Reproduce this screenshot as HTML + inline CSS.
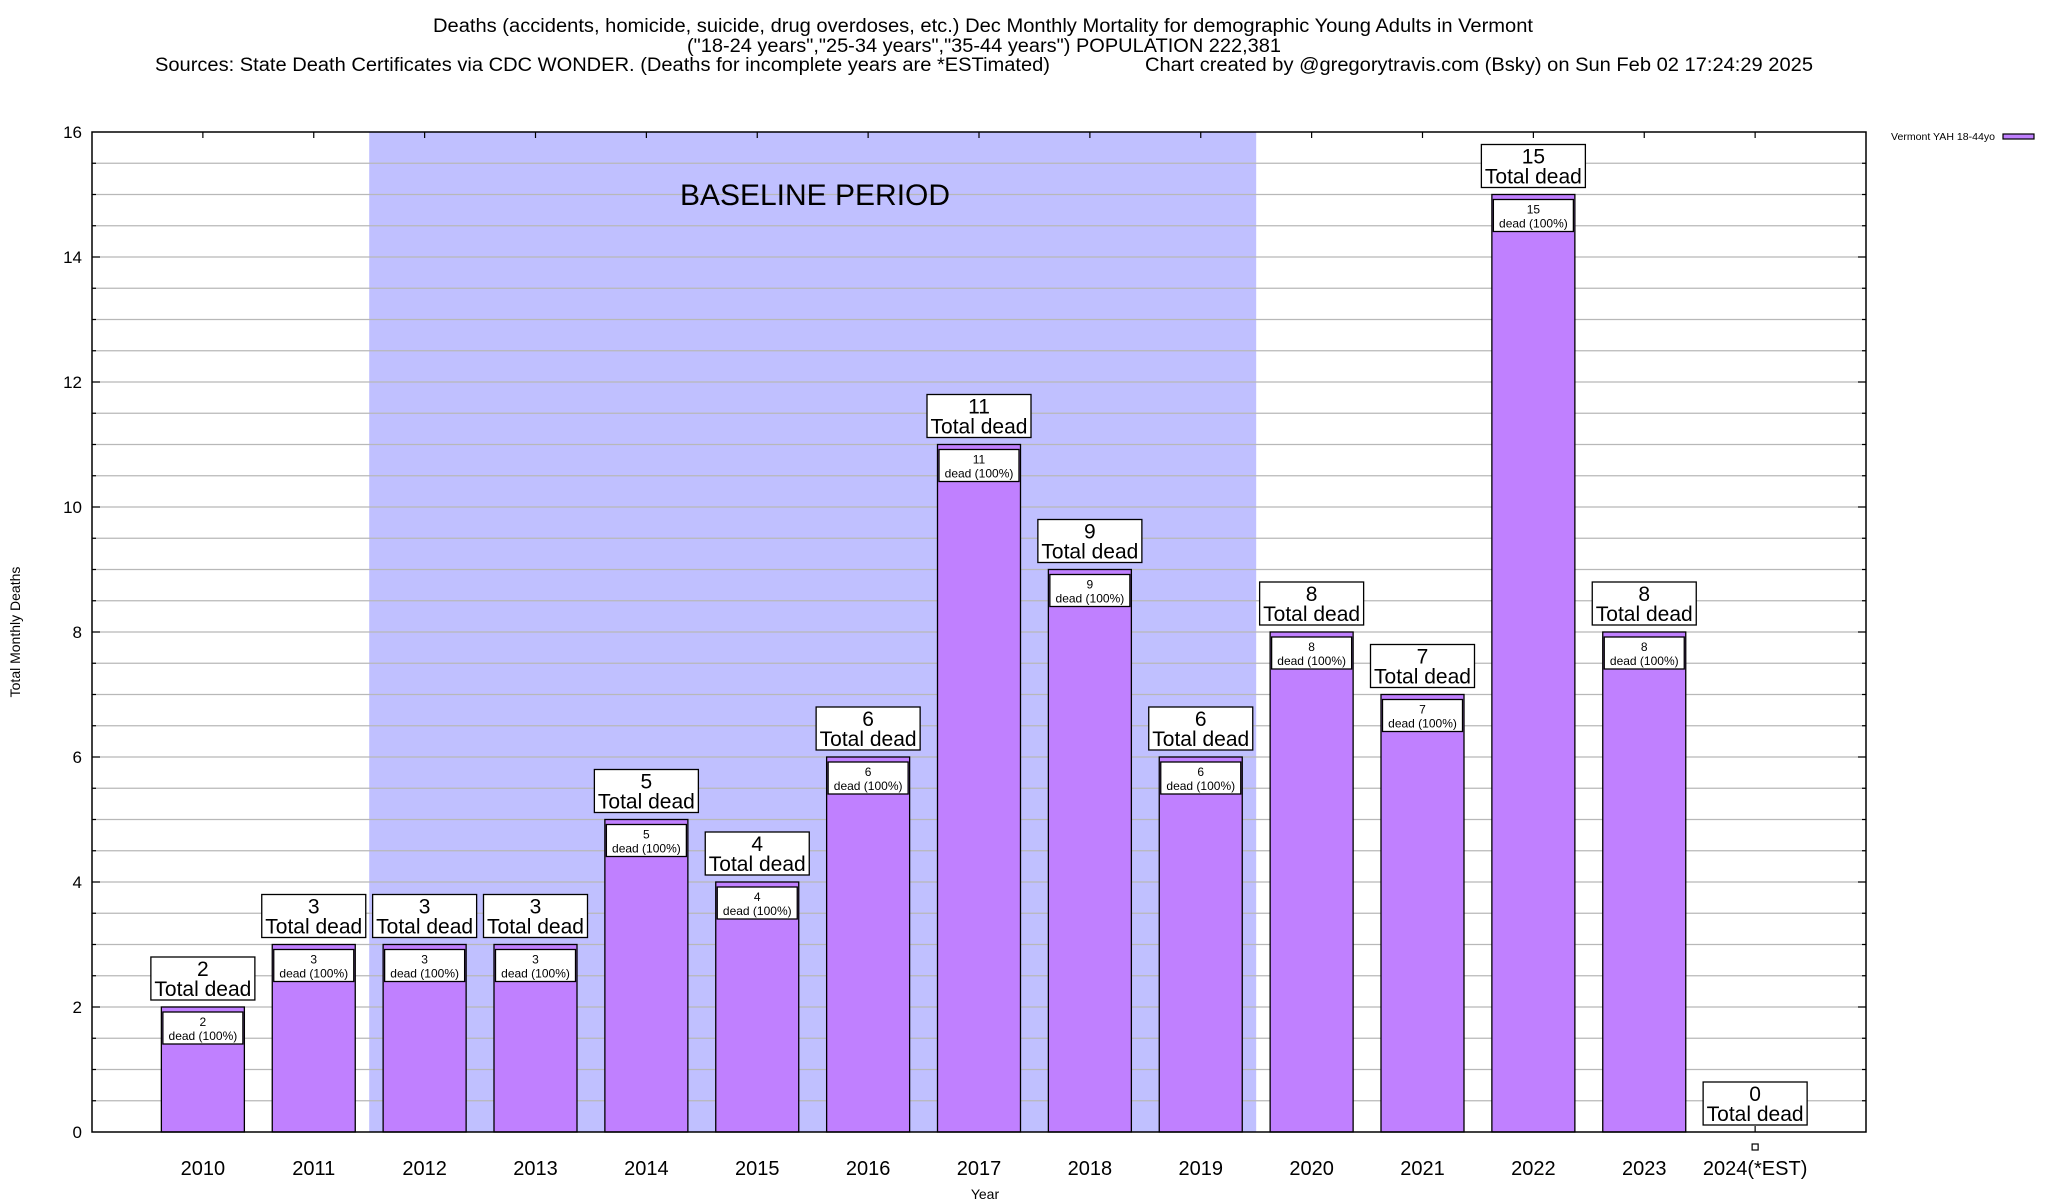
<!DOCTYPE html>
<html><head><meta charset="utf-8"><style>
html,body{margin:0;padding:0;background:#fff;}
svg{display:block;font-family:"Liberation Sans",Arial,sans-serif;}
</style></head><body>
<svg id="chart" width="2048" height="1200" viewBox="0 0 2048 1200">
<g id="titles">
<text x="983" y="32" font-size="19" text-anchor="middle" textLength="1100" lengthAdjust="spacingAndGlyphs">Deaths (accidents, homicide, suicide, drug overdoses, etc.) Dec Monthly Mortality for demographic Young Adults in Vermont</text>
<text x="984" y="52" font-size="19" text-anchor="middle" textLength="594" lengthAdjust="spacingAndGlyphs">("18-24 years","25-34 years","35-44 years") POPULATION 222,381</text>
<text x="155" y="71" font-size="19" textLength="895" lengthAdjust="spacingAndGlyphs">Sources: State Death Certificates via CDC WONDER. (Deaths for incomplete years are *ESTimated)</text>
<text x="1145" y="71" font-size="19" textLength="668" lengthAdjust="spacingAndGlyphs">Chart created by @gregorytravis.com (Bsky) on Sun Feb 02 17:24:29 2025</text>
</g>
<g id="plot"></g>
<text x="815" y="205" font-size="30" text-anchor="middle">BASELINE PERIOD</text>
<text x="985" y="1199" font-size="14" text-anchor="middle">Year</text>
<text transform="translate(20,632) rotate(-90)" font-size="14" text-anchor="middle">Total Monthly Deaths</text>
<g>
<text x="1891" y="140" font-size="10" textLength="104" lengthAdjust="spacingAndGlyphs">Vermont YAH 18-44yo</text>
<rect x="2003" y="134" width="31" height="5" fill="#c080ff" stroke="#000" stroke-width="1.2"></rect>
</g>
</svg>
<script>
const categories = ["2010","2011","2012","2013","2014","2015","2016","2017","2018","2019","2020","2021","2022","2023","2024(*EST)"];
const deaths = [2,3,3,3,5,4,6,11,9,6,8,7,15,8,0];
const yTicks = [0,2,4,6,8,10,12,14,16];
const baselineRange = [2012, 2019];

const NS = "http://www.w3.org/2000/svg";
const L = 92, R = 1866, T = 132, B = 1132;
const yMax = 16;
const step = (R - L) / (categories.length + 1);
function xPos(i){ return L + (i + 1) * step; }
function yPos(v){ return B - v / yMax * (B - T); }
const g = document.getElementById('plot');
function mk(tag, attrs, parent){
  const e = document.createElementNS(NS, tag);
  for (const k in attrs) e.setAttribute(k, attrs[k]);
  (parent || g).appendChild(e);
  return e;
}
const bi0 = categories.indexOf(String(baselineRange[0])), bi1 = categories.indexOf(String(baselineRange[1]));
const shade = mk('rect', {x: xPos(bi0) - step/2, y: T, width: (bi1 - bi0 + 1) * step, height: B - T, fill: '#c0c0ff'});


for (let v = 0.5; v < yMax; v += 0.5) {
  const gl = mk('line', {x1: L, x2: R, y1: yPos(v), y2: yPos(v), stroke: '#b8b8b8', 'stroke-width': 1.3});
  
  
  const major = (v % 2 === 0);
  const len = major ? 8 : 4;
  mk('line', {x1: L, x2: L + len, y1: yPos(v), y2: yPos(v), stroke: '#000', 'stroke-width': 1.2});
  mk('line', {x1: R, x2: R - len, y1: yPos(v), y2: yPos(v), stroke: '#000', 'stroke-width': 1.2});
}
yTicks.forEach(v => {
  const t = mk('text', {x: 82, y: yPos(v) + 6, 'font-size': 17, 'text-anchor': 'end'});
  t.textContent = v;
  
  
});
const bw = 83;
categories.forEach((c, i) => {
  const cx = xPos(i), v = deaths[i], yt = yPos(v);
  mk('line', {x1: cx, x2: cx, y1: T, y2: T + 6, stroke: '#000', 'stroke-width': 1.2});
  mk('line', {x1: cx, x2: cx, y1: B, y2: B - 6, stroke: '#000', 'stroke-width': 1.2});
  if (v > 0) {
    const bar = mk('rect', {x: cx - bw/2, y: yt, width: bw, height: B - yt, fill: '#c080ff', stroke: '#000', 'stroke-width': 1.3});
    
    
    const ib = mk('rect', {x: cx - 40, y: yt + 5, width: 80, height: 32, fill: '#fff', stroke: '#000', 'stroke-width': 1.3});
    
    
    const t1 = mk('text', {x: cx, y: yt + 19, 'font-size': 12, 'text-anchor': 'middle'});
    t1.textContent = v;
    
    
    const t2 = mk('text', {x: cx, y: yt + 33, 'font-size': 12, 'text-anchor': 'middle'});
    t2.textContent = 'dead (100%)';
    
    
  } else {
    const m = mk('rect', {x: cx - 3, y: B + 12, width: 6, height: 6, fill: '#fff', stroke: '#000', 'stroke-width': 1.2});
    
    
  }
  const ob = mk('rect', {x: cx - 52, y: yt - 50, width: 104, height: 43, fill: '#fff', stroke: '#000', 'stroke-width': 1.3});
  
  
  const o1 = mk('text', {x: cx, y: yt - 31, 'font-size': 21, 'text-anchor': 'middle'});
  o1.textContent = v;
  
  
  const o2 = mk('text', {x: cx, y: yt - 11, 'font-size': 21, 'text-anchor': 'middle'});
  o2.textContent = 'Total dead';
  
  
  const xl = mk('text', {x: cx, y: 1175, 'font-size': 20, 'text-anchor': 'middle'});
  xl.textContent = c;
  
  
});
const frame = mk('rect', {x: L, y: T, width: R - L, height: B - T, fill: 'none', stroke: '#000', 'stroke-width': 1.5});


</script>
</body></html>
